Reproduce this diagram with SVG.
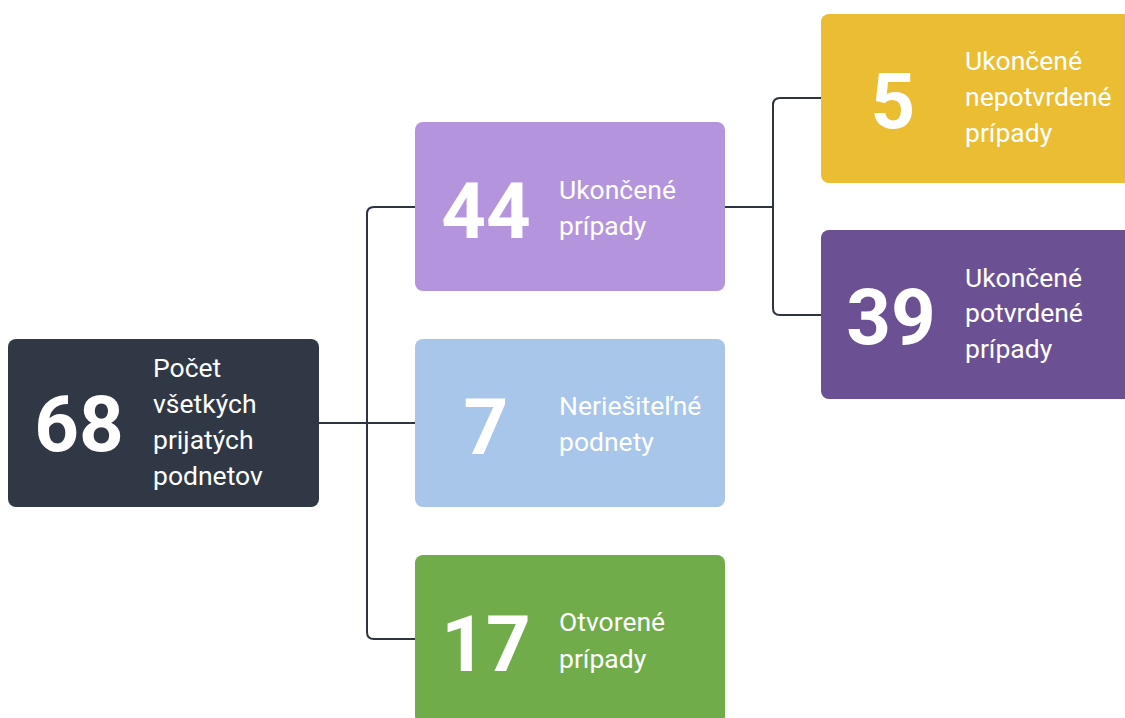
<svg xmlns="http://www.w3.org/2000/svg" width="1125" height="718" viewBox="0 0 1125 718">
<style>
.box{stroke:none}
.num{font-family:Roboto,"Liberation Sans",sans-serif;font-weight:700;font-size:78px;fill:#ffffff;text-anchor:middle}
.lbl{font-family:Roboto,"Liberation Sans",sans-serif;font-weight:400;font-size:26.5px;fill:#ffffff}
.conn{fill:none;stroke:#2d3440;stroke-width:2}
</style>
<rect width="1125" height="718" fill="#ffffff"/>
<g id="connectors">
<path class="conn" d="M319,423 H415"/>
<path class="conn" d="M415,207 H374 Q367,207 367,214 V632 Q367,639 374,639 H415"/>
<path class="conn" d="M725,207 H773"/>
<path class="conn" d="M821,98 H780 Q773,98 773,105 V308 Q773,315 780,315 H821"/>
</g>
<g id="node-root">
<rect class="box" x="8" y="339" width="311" height="168" rx="8" fill="#303845"/>
<text class="num" x="79" y="451">68</text>
<text class="lbl" x="153" y="377">Počet</text>
<text class="lbl" x="153" y="413">všetkých</text>
<text class="lbl" x="153" y="449">prijatých</text>
<text class="lbl" x="153" y="485">podnetov</text>
</g>
<g id="node-44">
<rect class="box" x="415" y="122" width="310" height="169" rx="8" fill="#b494dd"/>
<text class="num" x="486" y="238">44</text>
<text class="lbl" x="559" y="199">Ukončené</text>
<text class="lbl" x="559" y="235">prípady</text>
</g>
<g id="node-7">
<rect class="box" x="415" y="339" width="310" height="168" rx="8" fill="#a8c5ea"/>
<text class="num" x="486" y="454">7</text>
<text class="lbl" x="559" y="415">Neriešiteľné</text>
<text class="lbl" x="559" y="451">podnety</text>
</g>
<g id="node-17">
<rect class="box" x="415" y="555" width="310" height="169" rx="8" fill="#70ac4a"/>
<text class="num" x="486" y="671">17</text>
<text class="lbl" x="559" y="631">Otvorené</text>
<text class="lbl" x="559" y="668">prípady</text>
</g>
<g id="node-5">
<rect class="box" x="821" y="14" width="320" height="169" rx="8" fill="#ebbd33"/>
<text class="num" x="893" y="128">5</text>
<text class="lbl" x="965" y="70">Ukončené</text>
<text class="lbl" x="965" y="106">nepotvrdené</text>
<text class="lbl" x="965" y="142">prípady</text>
</g>
<g id="node-39">
<rect class="box" x="821" y="230" width="320" height="169" rx="8" fill="#6b5194"/>
<text class="num" x="891" y="344">39</text>
<text class="lbl" x="965" y="287">Ukončené</text>
<text class="lbl" x="965" y="322">potvrdené</text>
<text class="lbl" x="965" y="358">prípady</text>
</g>
</svg>
